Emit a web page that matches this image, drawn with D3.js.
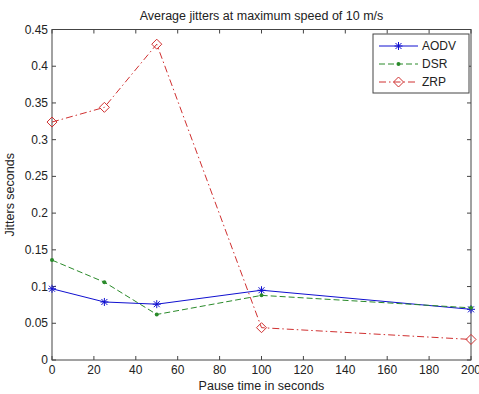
<!DOCTYPE html>
<html>
<head>
<meta charset="utf-8">
<script src="https://cdn.jsdelivr.net/npm/d3@7"></script>
<style>
  body { margin: 0; background: #fff; }
  svg text { font-family: "Liberation Sans", Arial, sans-serif; fill: #222; font-size: 12px; }
</style>
</head>
<body>
<div id="chart"></div>
<script>
const pauseTimes = [0, 25, 50, 100, 200];
const aodv = [0.097, 0.079, 0.076, 0.095, 0.069];
const dsr = [0.136, 0.106, 0.062, 0.088, 0.071];
const zrp = [0.324, 0.344, 0.430, 0.044, 0.028];
const xTicks = [0, 20, 40, 60, 80, 100, 120, 140, 160, 180, 200];
const yTicks = [0, 0.05, 0.1, 0.15, 0.2, 0.25, 0.3, 0.35, 0.4, 0.45];

const width = 479, height = 394;
const plotLeft = 52, plotRight = 471, plotTop = 29.5, plotBottom = 360;

const svg = d3.select('#chart').append('svg')
    .attr('width', width)
    .attr('height', height);

const x = d3.scaleLinear().domain([0, 200]).range([plotLeft, plotRight]);
const y = d3.scaleLinear().domain([0, 0.45]).range([plotBottom, plotTop]);
const axisColor = '#444';

// box
svg.append('rect')
    .attr('x', plotLeft).attr('y', plotTop)
    .attr('width', plotRight - plotLeft).attr('height', plotBottom - plotTop)
    .attr('fill', 'none').attr('stroke', axisColor).attr('stroke-width', 1);

// ticks on all four sides, inward
const tl = 4;
xTicks.forEach(t => {
    svg.append('line').attr('x1', x(t)).attr('x2', x(t)).attr('y1', plotBottom).attr('y2', plotBottom - tl).attr('stroke', axisColor);
    svg.append('line').attr('x1', x(t)).attr('x2', x(t)).attr('y1', plotTop).attr('y2', plotTop + tl).attr('stroke', axisColor);
    svg.append('text').attr('x', x(t)).attr('y', plotBottom + 14)
        .attr('text-anchor', 'middle').text(t);
});
yTicks.forEach(t => {
    svg.append('line').attr('x1', plotLeft).attr('x2', plotLeft + tl).attr('y1', y(t)).attr('y2', y(t)).attr('stroke', axisColor);
    svg.append('line').attr('x1', plotRight).attr('x2', plotRight - tl).attr('y1', y(t)).attr('y2', y(t)).attr('stroke', axisColor);
    svg.append('text').attr('x', plotLeft - 4).attr('y', y(t) + 4)
        .attr('text-anchor', 'end').text(t);
});

// labels
svg.append('text').attr('x', (plotLeft + plotRight) / 2).attr('y', 20)
    .attr('text-anchor', 'middle').style('font-size', '12.5px')
    .text('Average jitters at maximum speed of 10 m/s');
svg.append('text').attr('x', (plotLeft + plotRight) / 2).attr('y', 390)
    .attr('text-anchor', 'middle').style('font-size', '12.5px')
    .text('Pause time in seconds');
svg.append('text')
    .attr('transform', 'translate(14,' + ((plotTop + plotBottom) / 2) + ') rotate(-90)')
    .attr('text-anchor', 'middle').style('font-size', '12.5px')
    .text('Jitters seconds');

const series = [
    { name: 'AODV', values: aodv, color: '#1010d0', dash: null, marker: 'star' },
    { name: 'DSR', values: dsr, color: '#2a8a2a', dash: '6,3', marker: 'dot' },
    { name: 'ZRP', values: zrp, color: '#d03030', dash: '7,3,1.5,3', marker: 'diamond' }
];

const line = d3.line().x((d, i) => x(pauseTimes[i])).y(d => y(d));

function drawMarker(g, type, cx, cy, color) {
    if (type === 'star') {
        const r = 4;
        g.append('path')
            .attr('d', `M${cx - r},${cy}L${cx + r},${cy}M${cx},${cy - r}L${cx},${cy + r}` +
                `M${cx - 3},${cy - 3}L${cx + 3},${cy + 3}M${cx - 3},${cy + 3}L${cx + 3},${cy - 3}`)
            .attr('stroke', color).attr('stroke-width', 1).attr('fill', 'none');
    } else if (type === 'dot') {
        g.append('circle').attr('cx', cx).attr('cy', cy).attr('r', 2).attr('fill', color);
    } else {
        const r = 5;
        g.append('path')
            .attr('d', `M${cx},${cy - r}L${cx + r},${cy}L${cx},${cy + r}L${cx - r},${cy}Z`)
            .attr('stroke', color).attr('stroke-width', 1).attr('fill', 'none');
    }
}

series.forEach(s => {
    svg.append('path')
        .datum(s.values)
        .attr('d', line)
        .attr('fill', 'none')
        .attr('stroke', s.color)
        .attr('stroke-width', 1)
        .attr('stroke-dasharray', s.dash);
    const g = svg.append('g');
    s.values.forEach((v, i) => drawMarker(g, s.marker, x(pauseTimes[i]), y(v), s.color));
});

// legend
const lg = svg.append('g');
lg.append('rect').attr('x', 373).attr('y', 34).attr('width', 96).attr('height', 59)
    .attr('fill', '#fff').attr('stroke', axisColor);
series.forEach((s, i) => {
    const ly = 46 + i * 18;
    lg.append('line').attr('x1', 379).attr('x2', 418).attr('y1', ly).attr('y2', ly)
        .attr('stroke', s.color).attr('stroke-dasharray', s.dash);
    drawMarker(lg, s.marker, 398.5, ly, s.color);
    lg.append('text').attr('x', 422).attr('y', ly + 4).text(s.name);
});
</script>
</body>
</html>
